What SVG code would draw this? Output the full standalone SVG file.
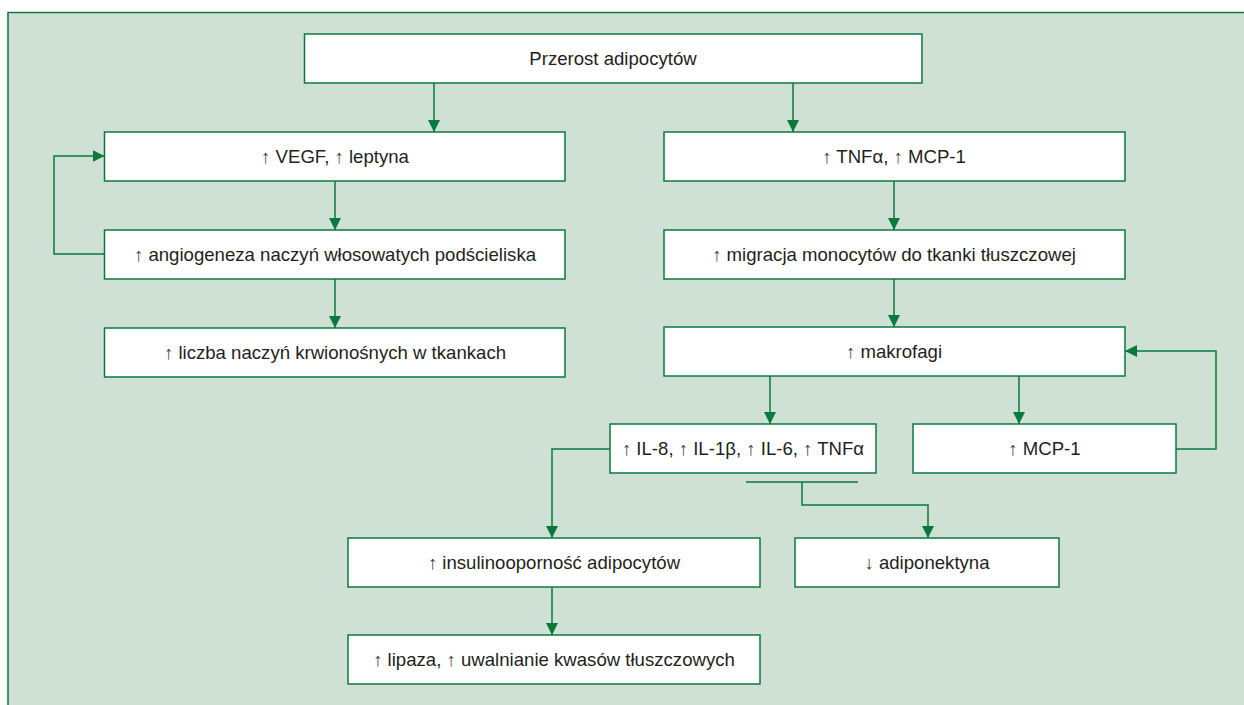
<svg xmlns="http://www.w3.org/2000/svg" width="1244" height="705" viewBox="0 0 1244 705">
<defs>
<style>
.bg{fill:#cfe0d5;stroke:none}
.frame{fill:none;stroke:#0a7a3c;stroke-width:1.5}
.box{fill:#ffffff;stroke:#0a7a3c;stroke-width:1.5}
.lbl{font-family:"Liberation Sans",Arial,sans-serif;font-size:18.6px;fill:#231f20;text-anchor:middle}
.ar{fill:#3a3a3a}
.con{fill:none;stroke:#0a7a3c;stroke-width:1.5}
</style>
<marker id="ah" viewBox="0 0 12 12" refX="12" refY="6" markerWidth="12" markerHeight="12" markerUnits="userSpaceOnUse" orient="auto">
<path d="M0,0 L12,6 L0,12 Z" fill="#0a7a3c"/>
</marker>
</defs>
<rect class="bg" x="8" y="12.5" width="1240" height="700"/>
<path class="frame" d="M8,710 V12.5 H1250"/>

<g id="connectors">
<path class="con" d="M434,83 V132" marker-end="url(#ah)"/>
<path class="con" d="M793,83 V132" marker-end="url(#ah)"/>
<path class="con" d="M335,181 V230" marker-end="url(#ah)"/>
<path class="con" d="M335,279 V328" marker-end="url(#ah)"/>
<path class="con" d="M104.5,254 H54 V156 H104.5" marker-end="url(#ah)"/>
<path class="con" d="M894,181 V230" marker-end="url(#ah)"/>
<path class="con" d="M894,279 V327" marker-end="url(#ah)"/>
<path class="con" d="M770,376 V424" marker-end="url(#ah)"/>
<path class="con" d="M1019,376 V424" marker-end="url(#ah)"/>
<path class="con" d="M1176,449 H1216 V351 H1125" marker-end="url(#ah)"/>
<path class="con" d="M610,449 H552 V538" marker-end="url(#ah)"/>
<path class="con" d="M746,482 H858"/>
<path class="con" d="M802,482 V505 H928 V538" marker-end="url(#ah)"/>
<path class="con" d="M552,587 V635" marker-end="url(#ah)"/>
</g>

<g id="n-przerost">
<rect class="box" x="304.5" y="34" width="617.5" height="49"/>
<text class="lbl" x="613" y="64.5">Przerost adipocytów</text>
</g>
<g id="n-vegf">
<rect class="box" x="104.5" y="132" width="460.5" height="49"/>
<text class="lbl" x="335" y="162.5"><tspan class="ar">↑</tspan> VEGF, <tspan class="ar">↑</tspan> leptyna</text>
</g>
<g id="n-tnf">
<rect class="box" x="664" y="132" width="461" height="49"/>
<text class="lbl" x="894" y="162.5"><tspan class="ar">↑</tspan> TNFα, <tspan class="ar">↑</tspan> MCP-1</text>
</g>
<g id="n-angio">
<rect class="box" x="104.5" y="230" width="460.5" height="49"/>
<text class="lbl" x="335" y="260.5"><tspan class="ar">↑</tspan> angiogeneza naczyń włosowatych podścieliska</text>
</g>
<g id="n-migracja">
<rect class="box" x="664" y="230" width="461" height="49"/>
<text class="lbl" x="894" y="260.5"><tspan class="ar">↑</tspan> migracja monocytów do tkanki tłuszczowej</text>
</g>
<g id="n-liczba">
<rect class="box" x="104.5" y="328" width="460.5" height="49"/>
<text class="lbl" x="335" y="358.5"><tspan class="ar">↑</tspan> liczba naczyń krwionośnych w tkankach</text>
</g>
<g id="n-makrofagi">
<rect class="box" x="664" y="327" width="461" height="49"/>
<text class="lbl" x="894" y="357.5"><tspan class="ar">↑</tspan> makrofagi</text>
</g>
<g id="n-il">
<rect class="box" x="610" y="424" width="266" height="49"/>
<text class="lbl" x="743" y="454.5"><tspan class="ar">↑</tspan> IL-8, <tspan class="ar">↑</tspan> IL-1β, <tspan class="ar">↑</tspan> IL-6, <tspan class="ar">↑</tspan> TNFα</text>
</g>
<g id="n-mcp">
<rect class="box" x="913" y="424" width="263" height="49"/>
<text class="lbl" x="1044.5" y="454.5"><tspan class="ar">↑</tspan> MCP-1</text>
</g>
<g id="n-insulin">
<rect class="box" x="348" y="538" width="412" height="49"/>
<text class="lbl" x="554" y="568.5"><tspan class="ar">↑</tspan> insulinooporność adipocytów</text>
</g>
<g id="n-adipo">
<rect class="box" x="795" y="538" width="264" height="49"/>
<text class="lbl" x="927" y="568.5"><tspan class="ar">↓</tspan> adiponektyna</text>
</g>
<g id="n-lipaza">
<rect class="box" x="348" y="635" width="412" height="49"/>
<text class="lbl" x="554" y="665.5"><tspan class="ar">↑</tspan> lipaza, <tspan class="ar">↑</tspan> uwalnianie kwasów tłuszczowych</text>
</g>
</svg>
